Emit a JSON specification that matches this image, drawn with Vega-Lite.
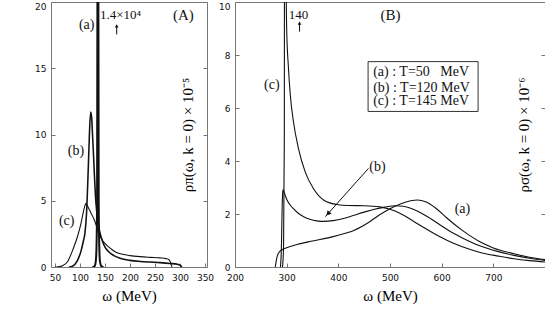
{
  "$schema": "https://vega.github.io/schema/vega-lite/v6.json",
  "padding": {"left": 34, "top": 1, "right": 0, "bottom": 0},
  "autosize": {"type": "pad"},
  "background": "white",
  "config": {
    "view": {"stroke": "#777", "strokeWidth": 1},
    "axis": {"grid": false, "domain": false, "tickColor": "#777", "tickSize": -4, "labelFont": "DejaVu Sans", "labelFontSize": 9, "labelColor": "#111", "labelOverlap": false, "titleFont": "Liberation Serif", "titleFontWeight": "normal", "titleColor": "#000"}
  },
  "resolve": {"scale": {"strokeWidth": "independent", "size": "independent"}},
  "datasets": {
    "pionA": [
      {"T": "a", "w": 125, "v": 0}, {"T": "a", "w": 129.5, "v": 0.08}, {"T": "a", "w": 131.5, "v": 0.4}, {"T": "a", "w": 133, "v": 1.5}, {"T": "a", "w": 134.2, "v": 5}, {"T": "a", "w": 135.2, "v": 30}, {"T": "a", "w": 135.8, "v": 14000}, {"T": "a", "w": 136.4, "v": 30}, {"T": "a", "w": 137.4, "v": 5}, {"T": "a", "w": 138.6, "v": 1.5}, {"T": "a", "w": 140, "v": 0.4}, {"T": "a", "w": 142.5, "v": 0.08}, {"T": "a", "w": 147, "v": 0},
      {"T": "b", "w": 78, "v": 0}, {"T": "b", "w": 84, "v": 0.05}, {"T": "b", "w": 90, "v": 0.2}, {"T": "b", "w": 96.6, "v": 0.63}, {"T": "b", "w": 102, "v": 1.2}, {"T": "b", "w": 107, "v": 2.0}, {"T": "b", "w": 110, "v": 2.6}, {"T": "b", "w": 113, "v": 4.0}, {"T": "b", "w": 116.6, "v": 7.5}, {"T": "b", "w": 119, "v": 10.2}, {"T": "b", "w": 121.4, "v": 11.7}, {"T": "b", "w": 123.5, "v": 11.2}, {"T": "b", "w": 125, "v": 10.0}, {"T": "b", "w": 126.6, "v": 8.8}, {"T": "b", "w": 129, "v": 6.8}, {"T": "b", "w": 131, "v": 5.3}, {"T": "b", "w": 133.4, "v": 4.2}, {"T": "b", "w": 136, "v": 3.4}, {"T": "b", "w": 139, "v": 2.75}, {"T": "b", "w": 142, "v": 2.3}, {"T": "b", "w": 145, "v": 1.95}, {"T": "b", "w": 150, "v": 1.5}, {"T": "b", "w": 156, "v": 1.2}, {"T": "b", "w": 163, "v": 0.97}, {"T": "b", "w": 172, "v": 0.78}, {"T": "b", "w": 180, "v": 0.66}, {"T": "b", "w": 200, "v": 0.5}, {"T": "b", "w": 220, "v": 0.42}, {"T": "b", "w": 240, "v": 0.37}, {"T": "b", "w": 260, "v": 0.33}, {"T": "b", "w": 280, "v": 0.27}, {"T": "b", "w": 295, "v": 0.2}, {"T": "b", "w": 300, "v": 0.14}, {"T": "b", "w": 302.5, "v": 0.05}, {"T": "b", "w": 304, "v": 0},
      {"T": "c", "w": 50, "v": 0}, {"T": "c", "w": 56.6, "v": 0.02}, {"T": "c", "w": 65, "v": 0.1}, {"T": "c", "w": 75, "v": 0.4}, {"T": "c", "w": 86.6, "v": 1.4}, {"T": "c", "w": 95, "v": 2.3}, {"T": "c", "w": 102, "v": 3.3}, {"T": "c", "w": 107, "v": 4.2}, {"T": "c", "w": 110, "v": 4.65}, {"T": "c", "w": 112, "v": 4.8}, {"T": "c", "w": 115, "v": 4.6}, {"T": "c", "w": 119, "v": 4.3}, {"T": "c", "w": 123.4, "v": 3.97}, {"T": "c", "w": 128, "v": 3.6}, {"T": "c", "w": 132, "v": 3.2}, {"T": "c", "w": 136.6, "v": 2.6}, {"T": "c", "w": 142, "v": 2.2}, {"T": "c", "w": 145, "v": 2.0}, {"T": "c", "w": 150, "v": 1.78}, {"T": "c", "w": 156, "v": 1.55}, {"T": "c", "w": 163, "v": 1.34}, {"T": "c", "w": 173, "v": 1.1}, {"T": "c", "w": 185, "v": 0.96}, {"T": "c", "w": 200, "v": 0.86}, {"T": "c", "w": 220, "v": 0.78}, {"T": "c", "w": 240, "v": 0.73}, {"T": "c", "w": 260, "v": 0.69}, {"T": "c", "w": 272, "v": 0.63}, {"T": "c", "w": 278, "v": 0.55}, {"T": "c", "w": 281, "v": 0.35}, {"T": "c", "w": 283, "v": 0.1}, {"T": "c", "w": 284, "v": 0}
    ],
    "sigmaB": [
      {"T": "a", "w": 278, "v": 0}, {"T": "a", "w": 280, "v": 0.25}, {"T": "a", "w": 282, "v": 0.42}, {"T": "a", "w": 285, "v": 0.55}, {"T": "a", "w": 290, "v": 0.64}, {"T": "a", "w": 300, "v": 0.73}, {"T": "a", "w": 320, "v": 0.85}, {"T": "a", "w": 350, "v": 0.98}, {"T": "a", "w": 380, "v": 1.1}, {"T": "a", "w": 400, "v": 1.2}, {"T": "a", "w": 430, "v": 1.38}, {"T": "a", "w": 460, "v": 1.7}, {"T": "a", "w": 480, "v": 1.97}, {"T": "a", "w": 500, "v": 2.2}, {"T": "a", "w": 520, "v": 2.38}, {"T": "a", "w": 540, "v": 2.5}, {"T": "a", "w": 553, "v": 2.53}, {"T": "a", "w": 570, "v": 2.45}, {"T": "a", "w": 590, "v": 2.2}, {"T": "a", "w": 610, "v": 1.85}, {"T": "a", "w": 640, "v": 1.38}, {"T": "a", "w": 675, "v": 0.94}, {"T": "a", "w": 700, "v": 0.72}, {"T": "a", "w": 740, "v": 0.5}, {"T": "a", "w": 770, "v": 0.37}, {"T": "a", "w": 800, "v": 0.28},
      {"T": "b", "w": 288, "v": 0}, {"T": "b", "w": 290, "v": 0.9}, {"T": "b", "w": 291, "v": 2.0}, {"T": "b", "w": 292, "v": 2.7}, {"T": "b", "w": 293, "v": 2.92}, {"T": "b", "w": 295, "v": 2.82}, {"T": "b", "w": 300, "v": 2.56}, {"T": "b", "w": 306, "v": 2.36}, {"T": "b", "w": 313, "v": 2.2}, {"T": "b", "w": 323, "v": 2.02}, {"T": "b", "w": 333, "v": 1.9}, {"T": "b", "w": 345, "v": 1.8}, {"T": "b", "w": 358, "v": 1.74}, {"T": "b", "w": 372, "v": 1.72}, {"T": "b", "w": 390, "v": 1.75}, {"T": "b", "w": 410, "v": 1.83}, {"T": "b", "w": 430, "v": 1.95}, {"T": "b", "w": 450, "v": 2.07}, {"T": "b", "w": 470, "v": 2.18}, {"T": "b", "w": 490, "v": 2.26}, {"T": "b", "w": 510, "v": 2.31}, {"T": "b", "w": 525, "v": 2.29}, {"T": "b", "w": 545, "v": 2.18}, {"T": "b", "w": 560, "v": 2.04}, {"T": "b", "w": 579, "v": 1.82}, {"T": "b", "w": 600, "v": 1.55}, {"T": "b", "w": 620, "v": 1.3}, {"T": "b", "w": 643, "v": 1.07}, {"T": "b", "w": 670, "v": 0.83}, {"T": "b", "w": 708, "v": 0.59}, {"T": "b", "w": 740, "v": 0.44}, {"T": "b", "w": 770, "v": 0.33}, {"T": "b", "w": 800, "v": 0.25},
      {"T": "c", "w": 292, "v": 0}, {"T": "c", "w": 294, "v": 0.8}, {"T": "c", "w": 295.5, "v": 5}, {"T": "c", "w": 296.3, "v": 30}, {"T": "c", "w": 296.8, "v": 140}, {"T": "c", "w": 297.4, "v": 30}, {"T": "c", "w": 298.5, "v": 12}, {"T": "c", "w": 300, "v": 9}, {"T": "c", "w": 303.5, "v": 7.5}, {"T": "c", "w": 307, "v": 6.5}, {"T": "c", "w": 313, "v": 5.5}, {"T": "c", "w": 323, "v": 4.46}, {"T": "c", "w": 336, "v": 3.58}, {"T": "c", "w": 352, "v": 2.95}, {"T": "c", "w": 372, "v": 2.52}, {"T": "c", "w": 397, "v": 2.36}, {"T": "c", "w": 420, "v": 2.32}, {"T": "c", "w": 450, "v": 2.31}, {"T": "c", "w": 480, "v": 2.27}, {"T": "c", "w": 500, "v": 2.18}, {"T": "c", "w": 520, "v": 2.02}, {"T": "c", "w": 546, "v": 1.72}, {"T": "c", "w": 580, "v": 1.32}, {"T": "c", "w": 611, "v": 1.0}, {"T": "c", "w": 640, "v": 0.76}, {"T": "c", "w": 676, "v": 0.54}, {"T": "c", "w": 710, "v": 0.41}, {"T": "c", "w": 740, "v": 0.31}, {"T": "c", "w": 770, "v": 0.24}, {"T": "c", "w": 800, "v": 0.19}
    ],
    "textA": [
      {"w": 113.4, "v": 18.24, "t": "(a)", "k": "curve"},
      {"w": 181, "v": 19.0, "t": "1.4×10⁴", "k": "note"},
      {"w": 306.6, "v": 19.05, "t": "(A)", "k": "panel"},
      {"w": 92, "v": 8.73, "t": "(b)", "k": "curve"},
      {"w": 73.4, "v": 3.45, "t": "(c)", "k": "curve"}
    ],
    "upA": [{"w": 173.4, "v": 17.55, "v2": 18.2}],
    "upHeadA": [{"w": 173.4, "v": 18.2}],
    "textB": [
      {"w": 323, "v": 9.52, "t": "140", "k": "note"},
      {"w": 501, "v": 9.52, "t": "(B)", "k": "panel"},
      {"w": 271.3, "v": 6.88, "t": "(c)", "k": "curve"},
      {"w": 475.7, "v": 3.79, "t": "(b)", "k": "curve"},
      {"w": 640.2, "v": 2.2, "t": "(a)", "k": "curve"}
    ],
    "upB": [{"w": 324.9, "v": 8.88, "v2": 9.2}],
    "upHeadB": [{"w": 324.9, "v": 9.2}],
    "legendB": [
      {"w": 467.4, "v": 7.34, "t": "(a) : T=50\u00a0\u00a0\u00a0MeV"},
      {"w": 467.4, "v": 6.77, "t": "(b) : T=120 MeV"},
      {"w": 467.4, "v": 6.25, "t": "(c) : T=145 MeV"}
    ],
    "boxB": [{"w": 457.6, "w2": 670.5, "v": 5.87, "v2": 7.75}],
    "arrowB": [{"w": 458.3, "v": 3.72, "w2": 374.8, "v2": 1.9}],
    "headB": [{"w": 380, "v": 2.01}]
  },
  "spacing": 28,
  "bounds": "flush",
  "hconcat": [
    {
      "width": 156,
      "height": 265,
      "resolve": {"axis": {"y": "independent"}},
      "encoding": {
        "x": {"field": "w", "type": "quantitative", "scale": {"domain": [42, 354], "nice": false, "zero": false},
              "axis": {"values": [50, 100, 150, 200, 250, 300, 350], "labelOverlap": false, "labelSeparation": 0, "labelFlush": false, "labelPadding": 10, "title": "ω  (MeV)", "titleFontSize": 15, "titlePadding": 6}}
      },
      "layer": [
        {
          "data": {"name": "pionA"},
          "mark": {"type": "line", "clip": true, "color": "#111", "interpolate": "monotone"},
          "encoding": {
            "y": {"field": "v", "type": "quantitative", "scale": {"domain": [0, 20], "nice": false},
                  "axis": {"values": [0, 5, 10, 15, 20], "labelOverlap": false, "labelPadding": 9, "title": null,
                           "labelBaseline": {"condition": {"test": "datum.value == 20", "value": "top"}, "value": "middle"}}},
            "strokeWidth": {"field": "T", "type": "nominal", "scale": {"domain": ["a", "b", "c"], "range": [2, 1.1, 1.1]}, "legend": null}
          }
        },
        {
          "data": {"name": "textA"},
          "mark": {"type": "text", "font": "Liberation Serif", "color": "#111"},
          "encoding": {
            "y": {"field": "v", "type": "quantitative", "scale": {"domain": [0, 20], "nice": false},
                  "axis": {"orient": "right", "labels": false, "values": [0, 5, 10, 15, 20], "title": "ρπ(ω, k = 0) × 10⁻⁵", "titleAngle": 270, "titleBaseline": "middle", "titlePadding": -20, "titleFontSize": 15}},
            "text": {"field": "t"},
            "size": {"field": "k", "type": "nominal", "scale": {"domain": ["panel", "curve", "note"], "range": [15, 13, 10]}, "legend": null}
          }
        },
        {
          "data": {"name": "upA"},
          "mark": {"type": "rule", "color": "#111", "strokeWidth": 1},
          "encoding": {
            "y": {"field": "v", "type": "quantitative", "scale": {"domain": [0, 20], "nice": false}, "axis": null},
            "y2": {"field": "v2"}
          }
        },
        {
          "data": {"name": "upHeadA"},
          "mark": {"type": "point", "shape": "triangle-up", "filled": true, "color": "#111", "size": 14, "opacity": 1},
          "encoding": {
            "y": {"field": "v", "type": "quantitative", "scale": {"domain": [0, 20], "nice": false}, "axis": null}
          }
        }
      ]
    },
    {
      "width": 310,
      "height": 265,
      "resolve": {"axis": {"y": "independent"}},
      "encoding": {
        "x": {"field": "w", "type": "quantitative", "scale": {"domain": [200, 800], "nice": false, "zero": false},
              "axis": {"values": [200, 300, 400, 500, 600, 700], "labelOverlap": false, "labelFlush": false, "labelPadding": 10, "title": "ω  (MeV)", "titleFontSize": 15, "titlePadding": 6}}
      },
      "layer": [
        {
          "data": {"name": "sigmaB"},
          "mark": {"type": "line", "clip": true, "color": "#111", "interpolate": "monotone"},
          "encoding": {
            "y": {"field": "v", "type": "quantitative", "scale": {"domain": [0, 10], "nice": false},
                  "axis": {"values": [0, 2, 4, 6, 8, 10], "labelOverlap": false, "labelPadding": 9, "title": null,
                           "labelBaseline": {"condition": {"test": "datum.value == 10", "value": "top"}, "value": "middle"}}},
            "strokeWidth": {"field": "T", "type": "nominal", "scale": {"domain": ["a", "b", "c"], "range": [1.1, 1.1, 1.6]}, "legend": null}
          }
        },
        {
          "data": {"name": "textB"},
          "mark": {"type": "text", "font": "Liberation Serif", "color": "#111"},
          "encoding": {
            "y": {"field": "v", "type": "quantitative", "scale": {"domain": [0, 10], "nice": false},
                  "axis": {"orient": "right", "labels": false, "values": [0, 2, 4, 6, 8, 10], "title": "ρσ(ω, k = 0) × 10⁻⁶", "titleAngle": 270, "titleBaseline": "middle", "titlePadding": -22, "titleFontSize": 15}},
            "text": {"field": "t"},
            "size": {"field": "k", "type": "nominal", "scale": {"domain": ["panel", "curve", "note"], "range": [15, 13, 11]}, "legend": null}
          }
        },
        {
          "data": {"name": "upB"},
          "mark": {"type": "rule", "color": "#111", "strokeWidth": 1},
          "encoding": {
            "y": {"field": "v", "type": "quantitative", "scale": {"domain": [0, 10], "nice": false}, "axis": null},
            "y2": {"field": "v2"}
          }
        },
        {
          "data": {"name": "upHeadB"},
          "mark": {"type": "point", "shape": "triangle-up", "filled": true, "color": "#111", "size": 14, "opacity": 1},
          "encoding": {
            "y": {"field": "v", "type": "quantitative", "scale": {"domain": [0, 10], "nice": false}, "axis": null}
          }
        },
        {
          "data": {"name": "boxB"},
          "mark": {"type": "rect", "fill": "white", "stroke": "#333", "strokeWidth": 1},
          "encoding": {
            "x2": {"field": "w2"},
            "y": {"field": "v", "type": "quantitative", "scale": {"domain": [0, 10], "nice": false}, "axis": null},
            "y2": {"field": "v2"}
          }
        },
        {
          "data": {"name": "legendB"},
          "mark": {"type": "text", "font": "Liberation Serif", "fontSize": 14, "align": "left", "color": "#111"},
          "encoding": {
            "y": {"field": "v", "type": "quantitative", "scale": {"domain": [0, 10], "nice": false}, "axis": null},
            "text": {"field": "t"}
          }
        },
        {
          "data": {"name": "arrowB"},
          "mark": {"type": "rule", "color": "#111", "strokeWidth": 1},
          "encoding": {
            "x2": {"field": "w2"},
            "y": {"field": "v", "type": "quantitative", "scale": {"domain": [0, 10], "nice": false}, "axis": null},
            "y2": {"field": "v2"}
          }
        },
        {
          "data": {"name": "headB"},
          "mark": {"type": "point", "shape": "triangle-up", "filled": true, "color": "#111", "size": 30, "angle": 222, "opacity": 1},
          "encoding": {
            "y": {"field": "v", "type": "quantitative", "scale": {"domain": [0, 10], "nice": false}, "axis": null}
          }
        }
      ]
    }
  ]
}
